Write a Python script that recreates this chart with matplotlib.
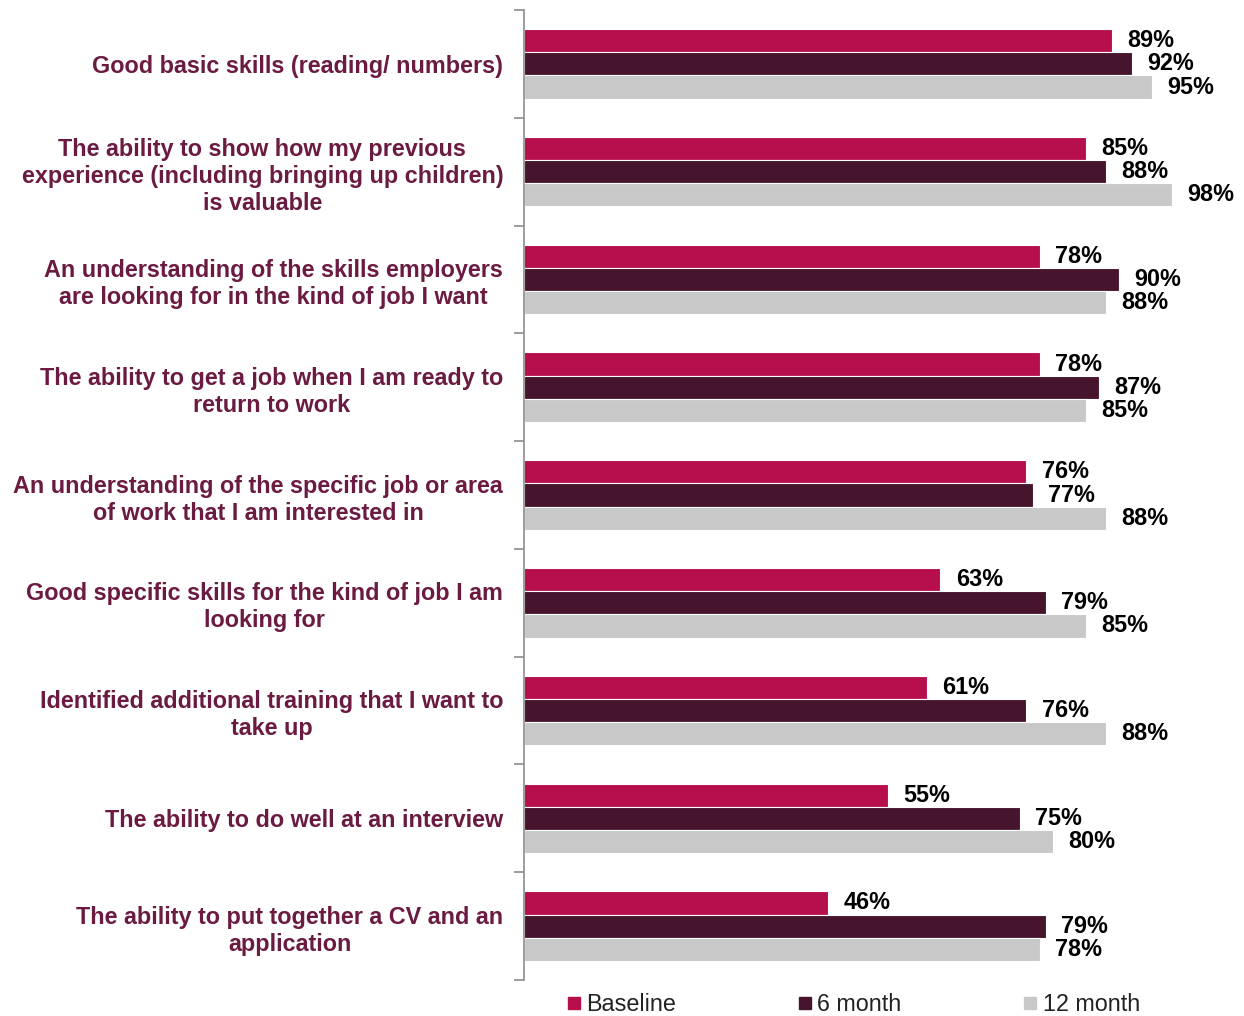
import numpy as np
import matplotlib.pyplot as plt
from matplotlib.lines import Line2D

plt.rcParams['font.family'] = ['Liberation Sans', 'DejaVu Sans']

categories = [
    'Good basic skills (reading/ numbers)',
    'The ability to show how my previous\nexperience (including bringing up children)\nis valuable',
    'An understanding of the skills employers\nare looking for in the kind of job I want',
    'The ability to get a job when I am ready to\nreturn to work',
    'An understanding of the specific job or area\nof work that I am interested in',
    'Good specific skills for the kind of job I am\nlooking for',
    'Identified additional training that I want to\ntake up',
    'The ability to do well at an interview',
    'The ability to put together a CV and an\napplication',
]
baseline = [89, 85, 78, 78, 76, 63, 61, 55, 46]
month6 = [92, 88, 90, 87, 77, 79, 76, 75, 79]
month12 = [95, 98, 88, 85, 88, 85, 88, 80, 78]

series = ['Baseline', '6 month', '12 month']
colors = ['#B70E4E', '#47142E', '#C8C8C8']
label_color = '#6B1A42'
fs = 16.8

fig = plt.figure(figsize=(12.44, 10.16), dpi=100)
ax = fig.add_axes([524 / 1244, 36 / 1016, 661 / 1244, 970 / 1016])

y = np.arange(len(categories))
h = 0.215
offsets = [-h, 0, h]
for vals, off, col in zip([baseline, month6, month12], offsets, colors):
    bars = ax.barh(y + off, vals, height=h, color=col, edgecolor='white', linewidth=0.8)
    for b, v in zip(bars, vals):
        ax.text(b.get_width() + 2.3, b.get_y() + b.get_height() / 2, f'{v}%',
                va='center', ha='left', fontsize=fs, fontweight='bold', color='black')

ax.set_xlim(0, 100)
ax.set_ylim(len(categories) - 0.5, -0.5)

for s in ['top', 'right', 'bottom']:
    ax.spines[s].set_visible(False)
ax.spines['left'].set_color('#8C8C8C')
ax.spines['left'].set_linewidth(1.2)
ax.set_xticks([])

ax.set_yticks(np.arange(len(categories) + 1) - 0.5)
ax.set_yticklabels([])
ax.tick_params(axis='y', which='major', length=7, width=1.2, color='#8C8C8C')
ax.set_yticks(y, minor=True)
ax.set_yticklabels(categories, minor=True)
ax.tick_params(axis='y', which='minor', length=0, pad=15)
for lab in ax.get_yticklabels(minor=True):
    lab.set_fontsize(fs)
    lab.set_fontweight('bold')
    lab.set_color(label_color)
    lab.set_multialignment('center')
    lab.set_linespacing(1.23)

handles = [Line2D([], [], marker='s', linestyle='none', markersize=8,
                  markerfacecolor=c, markeredgecolor=c) for c in colors]
fig.legend(handles, series, loc='center', bbox_to_anchor=(0.686, 0.011), ncol=3,
           frameon=False, fontsize=fs, handlelength=0.6, handletextpad=0.25,
           columnspacing=5.2, labelcolor='#222222')

fig.savefig('out.png', dpi=100)
